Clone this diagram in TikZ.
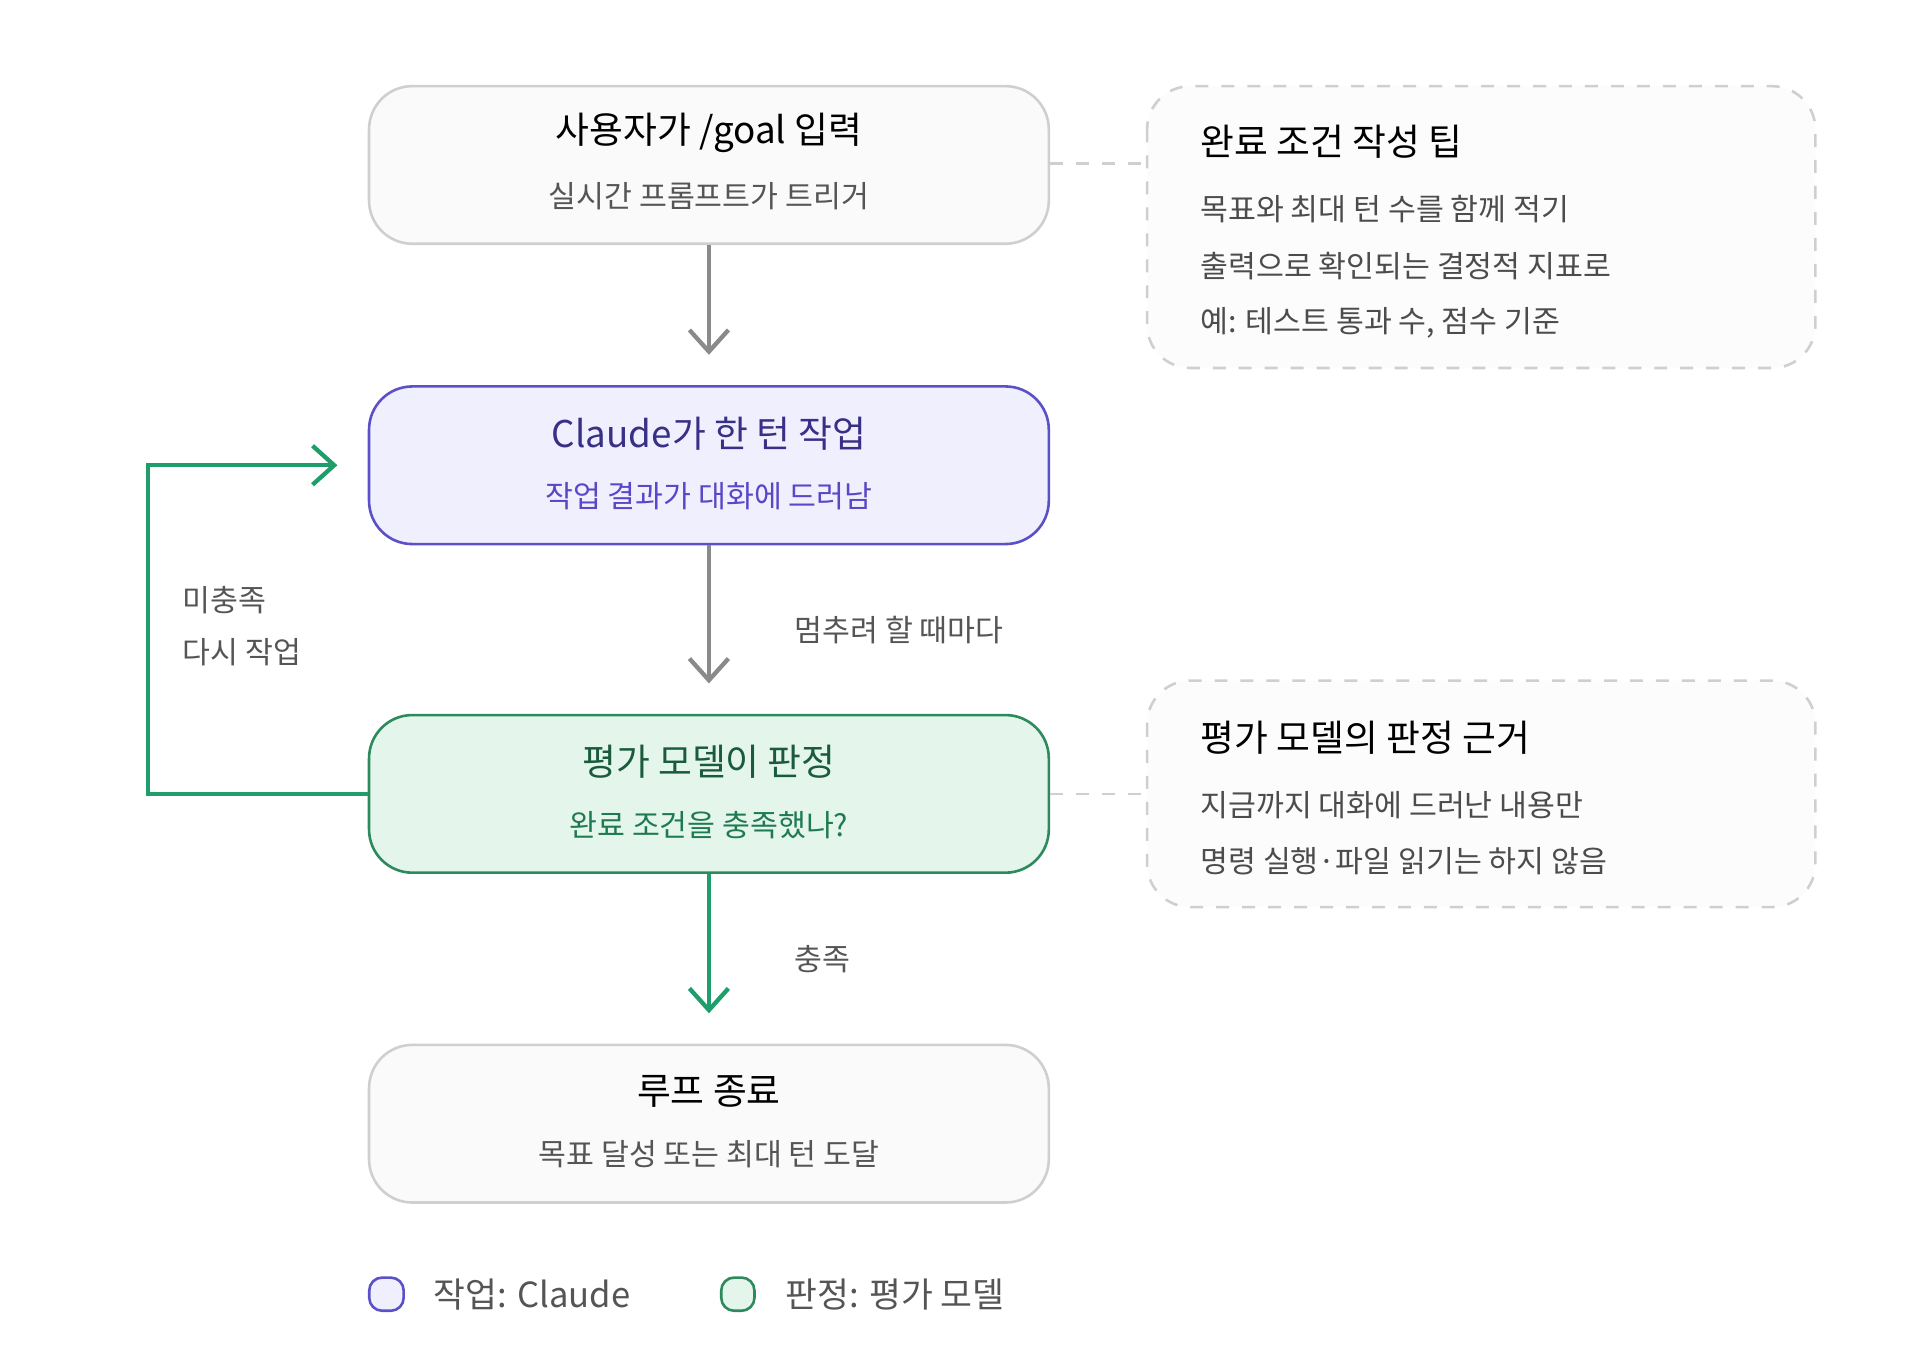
\documentclass[tikz,border=0pt]{standalone}
\usepackage{fontspec}
\setmainfont{Noto Sans CJK KR}
\usetikzlibrary{positioning,arrows.meta}
\definecolor{stepfill}{HTML}{FAFAFA}
\definecolor{stepline}{HTML}{CFCFCF}
\definecolor{workfill}{HTML}{EFEFFD}
\definecolor{workline}{HTML}{5B50C8}
\definecolor{worktitle}{HTML}{3A2F86}
\definecolor{worksub}{HTML}{5A46C6}
\definecolor{judgefill}{HTML}{E4F5EC}
\definecolor{judgeline}{HTML}{2C8A5C}
\definecolor{judgetitle}{HTML}{1B5B3D}
\definecolor{judgesub}{HTML}{1F7A4F}
\definecolor{passgreen}{HTML}{1F9D6B}
\definecolor{flowgray}{HTML}{8A8A8A}
\definecolor{textgray}{HTML}{555555}
\tikzset{
  stepbox/.style={draw=stepline, fill=stepfill, rounded corners=10pt, line width=0.6pt,
    minimum width=5.52cm, minimum height=1.28cm, inner sep=0pt},
  work/.style={stepbox, draw=workline, fill=workfill},
  judge/.style={stepbox, draw=judgeline, fill=judgefill},
  tip/.style={draw=stepline, dashed, rounded corners=10pt, line width=0.6pt, fill=stepfill!60},
  ttl/.style={font=\fontsize{8.5}{10}\selectfont, anchor=center},
  sub/.style={font=\fontsize{7}{9}\selectfont, text=textgray, anchor=center},
  tipttl/.style={font=\fontsize{8.5}{10}\selectfont, anchor=west},
  tiptxt/.style={font=\fontsize{7}{9}\selectfont, text=textgray!90!black, anchor=west},
  flow/.style={draw=flowgray, line width=1pt, -{Straight Barb[length=5pt,width=9pt]}, shorten >=7pt},
  pass/.style={flow, draw=passgreen},
  link/.style={draw=stepline, dashed, line width=0.6pt},
  lbl/.style={font=\fontsize{7}{9}\selectfont, text=textgray, anchor=west}
}
\begin{document}
\begin{tikzpicture}[x=0.01cm, y=-0.01cm]
  \useasboundingbox (0,0) rectangle (1560,1111);
  % main column
  \node[stepbox] (input) at (576,134) {};
  \node[work]    (work)  at (576,378) {};
  \node[judge]   (check) at (576,645) {};
  \node[stepbox] (done)  at (576,913) {};
  \node[ttl] at (576,108) {사용자가 /goal 입력};
  \node[sub] at (576,159) {실시간 프롬프트가 트리거};
  \node[ttl, text=worktitle] at (576,352) {Claude가 한 턴 작업};
  \node[sub, text=worksub] at (576,403) {작업 결과가 대화에 드러남};
  \node[ttl, text=judgetitle] at (576,619) {평가 모델이 판정};
  \node[sub, text=judgesub] at (576,670) {완료 조건을 충족했나?};
  \node[ttl] at (576,887) {루프 종료};
  \node[sub] at (576,938) {목표 달성 또는 최대 턴 도달};
  % side notes
  \draw[tip] (932,70) rectangle (1475,299);
  \coordinate (tipA) at (932,133);
  \node[tipttl] at (963,115) {완료 조건 작성 팁};
  \node[tiptxt] at (963,170) {목표와 최대 턴 수를 함께 적기};
  \node[tiptxt] at (963,216) {출력으로 확인되는 결정적 지표로};
  \node[tiptxt] at (963,262) {예: 테스트 통과 수, 점수 기준};
  \draw[tip] (932,553) rectangle (1475,737);
  \coordinate (tipB) at (932,645);
  \node[tipttl] at (963,599) {평가 모델의 판정 근거};
  \node[tiptxt] at (963,654) {지금까지 대화에 드러난 내용만};
  \node[tiptxt] at (963,700) {명령 실행·파일 읽기는 하지 않음};
  % connectors
  \draw[flow] (input) -- (work);
  \draw[flow] (work) -- node[lbl, right=16pt] {멈추려 할 때마다} (check);
  \draw[pass] (check) -- node[lbl, right=16pt] {충족} (done);
  \draw[pass] (check.west) -- (120,645) -- (120,378) -- (work.west);
  \node[lbl] at (136,488) {미충족};
  \node[lbl] at (136,530) {다시 작업};
  \draw[link] (input.east |- tipA) -- (tipA);
  \draw[link] (check.east) -- (tipB);
  % legend
  \draw[draw=workline, fill=workfill, rounded corners=3pt, line width=0.6pt] (300,1038) rectangle (328,1065);
  \node[lbl, font=\fontsize{8}{10}\selectfont] at (340,1052) {작업: Claude};
  \draw[draw=judgeline, fill=judgefill, rounded corners=3pt, line width=0.6pt] (586,1038) rectangle (613,1065);
  \node[lbl, font=\fontsize{8}{10}\selectfont] at (626,1052) {판정: 평가 모델};
\end{tikzpicture}
\end{document}
